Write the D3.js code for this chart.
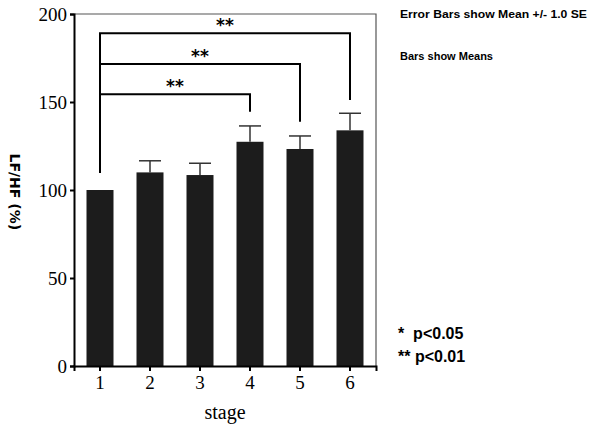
<!DOCTYPE html>
<html>
<head>
<meta charset="utf-8">
<script src="https://cdn.jsdelivr.net/npm/d3@7"></script>
<style>
  body { margin: 0; background: #fff; }
  svg { display: block; }
</style>
</head>
<body>
<div id="chart"></div>
<script>
// data
const stages = ["1", "2", "3", "4", "5", "6"];
const means = [100, 110, 108.5, 127.4, 123.3, 133.9];
const errors = [0, 6.6, 6.7, 9, 7.4, 9.7];
const yTicks = [0, 50, 100, 150, 200];
// significance brackets: [from stage, to stage, bracket level, right leg end]
const brackets = [
  ["1", "4", 154.4, 144.5],
  ["1", "5", 171.6, 138.8],
  ["1", "6", 189.0, 151.1]
];
const bracketLeftEnd = 109.6;

const width = 590, height = 429;
const margin = { top: 14, right: 214, bottom: 63, left: 74 };

const svg = d3.select("#chart").append("svg")
  .attr("width", width)
  .attr("height", height);

const x = d3.scaleBand()
  .domain(stages)
  .range([margin.left, width - margin.right])
  .paddingInner(0.46)
  .paddingOuter(0.25);

const y = d3.scaleLinear()
  .domain([0, 200])
  .range([height - margin.bottom, margin.top]);

// frame top / right
svg.append("path")
  .attr("d", `M${margin.left},${margin.top}H${width - margin.right}V${height - margin.bottom}`)
  .attr("fill", "none")
  .attr("stroke", "#555")
  .attr("stroke-width", 1.2);

// bars
svg.append("g")
  .selectAll("rect")
  .data(stages)
  .join("rect")
  .attr("x", d => x(d))
  .attr("y", (d, i) => y(means[i]))
  .attr("width", x.bandwidth())
  .attr("height", (d, i) => y(0) - y(means[i]))
  .attr("fill", "#1c1c1c");

// error bars
const eb = svg.append("g")
  .attr("stroke", "#333")
  .attr("stroke-width", 1.5)
  .selectAll("g")
  .data(stages.filter((d, i) => errors[i] > 0))
  .join("g");

eb.append("line")
  .attr("x1", d => x(d) + x.bandwidth() / 2)
  .attr("x2", d => x(d) + x.bandwidth() / 2)
  .attr("y1", d => y(means[stages.indexOf(d)]))
  .attr("y2", d => y(means[stages.indexOf(d)] + errors[stages.indexOf(d)]));

eb.append("line")
  .attr("x1", d => x(d) + x.bandwidth() / 2 - 11)
  .attr("x2", d => x(d) + x.bandwidth() / 2 + 11)
  .attr("y1", d => y(means[stages.indexOf(d)] + errors[stages.indexOf(d)]))
  .attr("y2", d => y(means[stages.indexOf(d)] + errors[stages.indexOf(d)]));

// significance brackets
const cx = d => x(d) + x.bandwidth() / 2;
const br = svg.append("g");
br.selectAll("path")
  .data(brackets)
  .join("path")
  .attr("d", d => `M${cx(d[0])},${y(bracketLeftEnd)}V${y(d[2])}H${cx(d[1])}V${y(d[3])}`)
  .attr("fill", "none")
  .attr("stroke", "#000")
  .attr("stroke-width", 2);

br.selectAll("text")
  .data(brackets)
  .join("text")
  .attr("x", d => (cx(d[0]) + cx(d[1])) / 2)
  .attr("y", d => y(d[2]) - 2)
  .attr("text-anchor", "middle")
  .attr("font-family", "DejaVu Sans, sans-serif")
  .attr("font-weight", "bold")
  .attr("font-size", 17)
  .text("**");

// axes
const yAxis = svg.append("g")
  .attr("transform", `translate(${margin.left},0)`)
  .call(d3.axisLeft(y).tickValues(yTicks).tickSize(4).tickPadding(3));

const xAxis = svg.append("g")
  .attr("transform", `translate(0,${height - margin.bottom})`)
  .call(d3.axisBottom(x).tickSize(5).tickPadding(5));

[yAxis, xAxis].forEach(g => {
  g.select(".domain").attr("stroke", "#000").attr("stroke-width", 2);
  g.selectAll(".tick line").attr("stroke", "#000").attr("stroke-width", 2);
  g.selectAll("text")
    .attr("fill", "#000")
    .attr("font-family", "Liberation Serif, DejaVu Serif, serif")
    .attr("font-size", 19);
});
yAxis.selectAll("text").attr("dy", "0.35em");

// axis titles
svg.append("text")
  .attr("transform", `translate(10,${y(99)}) rotate(90)`)
  .attr("text-anchor", "middle")
  .attr("font-family", "DejaVu Sans, sans-serif")
  .attr("font-weight", "bold")
  .attr("font-size", 14)
  .text("LF/HF (%)");

svg.append("text")
  .attr("x", (margin.left + width - margin.right) / 2)
  .attr("y", 419)
  .attr("text-anchor", "middle")
  .attr("font-family", "Liberation Serif, DejaVu Serif, serif")
  .attr("font-size", 20)
  .text("stage");

// notes on the right
const notes = svg.append("g")
  .attr("font-family", "Liberation Sans, Arial, sans-serif")
  .attr("font-weight", "bold")
  .attr("fill", "#000");

notes.append("text")
  .attr("x", 400).attr("y", 18)
  .attr("font-size", 10.5)
  .attr("textLength", 187)
  .attr("lengthAdjust", "spacingAndGlyphs")
  .text("Error Bars show Mean +/- 1.0 SE");

notes.append("text")
  .attr("x", 400).attr("y", 60)
  .attr("font-size", 10.5)
  .attr("textLength", 93)
  .attr("lengthAdjust", "spacingAndGlyphs")
  .text("Bars show Means");

notes.append("text")
  .attr("x", 398).attr("y", 339)
  .attr("font-size", 16)
  .attr("xml:space", "preserve")
  .text("*  p<0.05");

notes.append("text")
  .attr("x", 398).attr("y", 362)
  .attr("font-size", 16)
  .text("** p<0.01");
</script>
</body>
</html>
